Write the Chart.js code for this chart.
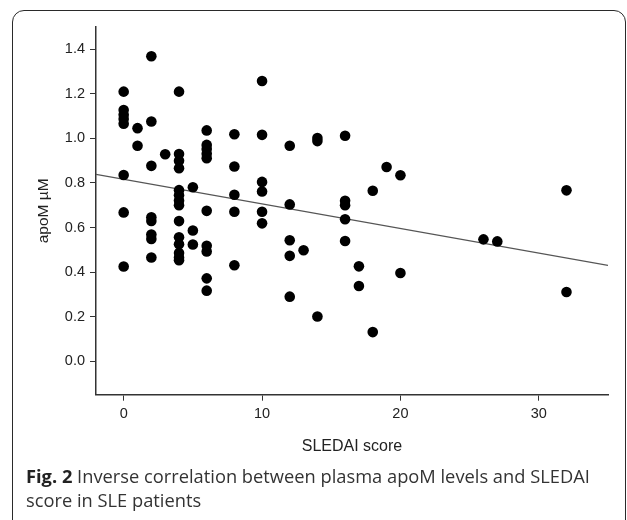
<!DOCTYPE html>
<html>
<head>
<meta charset="utf-8">
<script src="https://cdn.jsdelivr.net/npm/chart.js@4/dist/chart.umd.min.js"></script>
<style>
  html, body { margin: 0; padding: 0; background: #fff; }
  body { width: 627px; height: 520px; position: relative; overflow: hidden; }
  #frame {
    position: absolute; left: 12px; top: 10px; width: 614px; height: 600px;
    border: 1.5px solid #2a2a2a; border-radius: 12px; box-sizing: border-box;
  }
  #wrap { position: absolute; left: 0; top: 0; width: 627px; height: 470px; }
  #caption {
    position: absolute; left: 26px; top: 464px; width: 590px;
    font-family: "Open Sans", sans-serif; font-size: 18.3px; line-height: 24px;
    color: #333;
  }
  #caption b { font-weight: 700; color: #222; }
</style>
</head>
<body>
<div id="frame"></div>
<div id="wrap"><canvas id="apomChart" width="627" height="470"></canvas></div>
<div id="caption"><b>Fig. 2</b> Inverse correlation between plasma apoM levels and SLEDAI score in SLE patients</div>
<script>
// patient points: SLEDAI score and matching apoM value
const sledaiScore = [
  0, 0, 0, 0, 0, 0, 0, 0,
  1, 1,
  2, 2, 2, 2, 2, 2, 2, 2,
  3,
  4, 4, 4, 4, 4, 4, 4, 4, 4, 4, 4, 4, 4, 4,
  5, 5, 5,
  6, 6, 6, 6, 6, 6, 6, 6, 6, 6,
  8, 8, 8, 8, 8,
  10, 10, 10, 10, 10, 10,
  12, 12, 12, 12, 12,
  13,
  14, 14, 14,
  16, 16, 16, 16, 16,
  17, 17,
  18, 18,
  19,
  20, 20,
  26,
  27,
  32, 32
];
const apoM = [
  1.21, 1.127, 1.106, 1.087, 1.066, 0.836, 0.668, 0.425,
  1.046, 0.967,
  1.369, 1.076, 0.877, 0.646, 0.630, 0.569, 0.549, 0.466,
  0.929,
  1.21, 0.93, 0.90, 0.866, 0.768, 0.745, 0.722, 0.70, 0.629, 0.556, 0.525, 0.486, 0.466, 0.453,
  0.781, 0.587, 0.524,
  1.036, 0.971, 0.952, 0.931, 0.911, 0.675, 0.518, 0.493, 0.372, 0.317,
  1.019, 0.874, 0.747, 0.671, 0.431,
  1.258, 1.016, 0.805, 0.762, 0.671, 0.619,
  0.967, 0.704, 0.543, 0.473, 0.29,
  0.498,
  1.002, 0.988, 0.201,
  1.012, 0.72, 0.70, 0.637, 0.54,
  0.426, 0.338,
  0.765, 0.131,
  0.872,
  0.835, 0.396,
  0.547,
  0.538,
  0.767, 0.311
];

// fitted regression line end points
const fitX = [-2, 35];
const fitY = [0.839, 0.43];

const xTickValues = [0, 10, 20, 30];
const yTickValues = [0, 0.2, 0.4, 0.6, 0.8, 1.0, 1.2, 1.4];

const axisColor = "#333";
const tickFont = { family: "'Liberation Sans', Arial, sans-serif", size: 14.5 };
const titleFont = { family: "'Liberation Sans', Arial, sans-serif", size: 16 };

const ctx = document.getElementById("apomChart").getContext("2d");

new Chart(ctx, {
  type: "scatter",
  data: {
    datasets: [
      {
        label: "Patients",
        data: sledaiScore.map((x, i) => ({ x: x, y: apoM[i] })),
        backgroundColor: "#000",
        borderWidth: 0,
        pointRadius: 5.3,
        pointHoverRadius: 5.3,
      },
      {
        type: "line",
        label: "Fit",
        data: fitX.map((x, i) => ({ x: x, y: fitY[i] })),
        borderColor: "#555",
        borderWidth: 1.2,
        pointRadius: 0,
        fill: false,
      },
    ],
  },
  options: {
    responsive: false,
    animation: false,
    layout: {
      autoPadding: false,
      padding: { top: 27, right: 19, left: 30, bottom: 10 },
    },
    plugins: {
      legend: { display: false },
      tooltip: { enabled: false },
    },
    scales: {
      x: {
        type: "linear",
        min: -2,
        max: 35,
        afterBuildTicks: function (scale) {
          scale.ticks = xTickValues.map((v) => ({ value: v }));
        },
        afterFit: function (scale) {
          scale.height = 65.3;
        },
        grid: {
          drawOnChartArea: false,
          color: axisColor,
          tickLength: 6,
          tickWidth: 1,
        },
        border: { color: axisColor, width: 1.5 },
        ticks: {
          color: "#222",
          font: tickFont,
          padding: 5,
          maxRotation: 0,
        },
        title: {
          display: true,
          text: "SLEDAI score",
          color: "#222",
          font: titleFont,
          padding: { top: 4, bottom: 4 },
        },
      },
      y: {
        type: "linear",
        min: -0.15,
        max: 1.5,
        afterBuildTicks: function (scale) {
          scale.ticks = yTickValues.map((v) => ({ value: v }));
        },
        afterFit: function (scale) {
          scale.width = 66;
        },
        grid: {
          drawOnChartArea: false,
          color: axisColor,
          tickLength: 6,
          tickWidth: 1,
        },
        border: { color: axisColor, width: 1.5 },
        ticks: {
          color: "#222",
          font: tickFont,
          padding: 5,
          callback: function (value) {
            return Number(value).toFixed(1);
          },
        },
        title: {
          display: true,
          text: "apoM µM",
          color: "#222",
          font: { family: "'Liberation Sans', Arial, sans-serif", size: 15.5 },
          padding: { top: 4, bottom: 4 },
        },
      },
    },
  },
});
</script>
</body>
</html>
